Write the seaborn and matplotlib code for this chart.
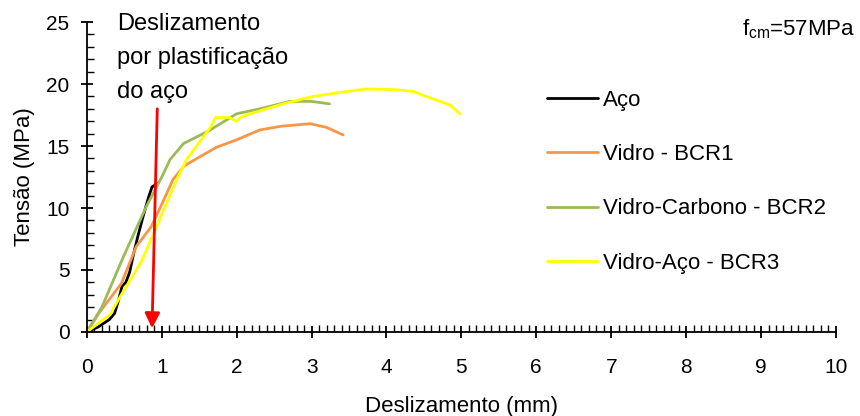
import matplotlib

matplotlib.use("Agg")
import matplotlib.pyplot as plt
import pandas as pd
import seaborn as sns
from matplotlib.ticker import MultipleLocator

# slip (mm) / bond stress (MPa)
aco_x = [0, 0.15, 0.3, 0.37, 0.42, 0.47, 0.52, 0.57, 0.62, 0.68, 0.75, 0.82, 0.87, 0.92, 0.95]
aco_y = [0, 0.4, 1.0, 1.5, 2.5, 3.7, 4.0, 4.8, 6.2, 7.7, 9.3, 10.8, 11.7, 11.9, 12.0]

bcr1_x = [0, 0.17, 0.46, 0.66, 0.86, 1.0, 1.15, 1.3, 1.5, 1.73, 2.0, 2.31, 2.6, 2.98, 3.2, 3.42]
bcr1_y = [0, 1.6, 3.9, 6.9, 8.5, 10.3, 12.3, 13.4, 14.1, 14.9, 15.5, 16.3, 16.6, 16.8, 16.5, 15.9]

bcr2_x = [0, 0.2, 0.49, 0.8, 1.0, 1.11, 1.29, 1.62, 2.0, 2.31, 2.71, 3.0, 3.24]
bcr2_y = [0, 2.0, 6.1, 10.2, 12.5, 13.9, 15.2, 16.2, 17.6, 18.0, 18.6, 18.6, 18.4]

bcr3_x = [0, 0.31, 0.44, 0.73, 0.93, 1.2, 1.33, 1.5, 1.66, 1.72, 1.9, 2.0, 2.05, 2.18,
          2.62, 3.02, 3.47, 3.73, 4.1, 4.36, 4.53, 4.85, 4.98]
bcr3_y = [0, 1.4, 2.8, 5.7, 8.5, 12.3, 13.9, 15.3, 16.6, 17.3, 17.3, 17.0, 17.3, 17.6,
          18.4, 19.0, 19.4, 19.6, 19.55, 19.4, 19.0, 18.3, 17.6]

series_names = ["Aço", "Vidro - BCR1", "Vidro-Carbono - BCR2", "Vidro-Aço - BCR3"]
series_colors = ["#000000", "#F79646", "#9BBB59", "#FFFF00"]

arrow_top = (0.94, 18.0)
arrow_tip = (0.87, 0.3)

frames = []
for name, xs, ys in zip(series_names, [aco_x, bcr1_x, bcr2_x, bcr3_x],
                        [aco_y, bcr1_y, bcr2_y, bcr3_y]):
    frames.append(pd.DataFrame({"x": xs, "y": ys, "serie": name}))
df = pd.concat(frames, ignore_index=True)

sns.set_style("white")
plt.rcParams["font.family"] = ["Liberation Sans", "DejaVu Sans"]
plt.rcParams["text.color"] = "black"
plt.rcParams["axes.labelcolor"] = "black"
plt.rcParams["xtick.color"] = "black"
plt.rcParams["ytick.color"] = "black"

fig = plt.figure(figsize=(8.6, 4.16), dpi=100)
ax = fig.add_axes([0.101, 0.202, 0.871, 0.745])

sns.lineplot(data=df, x="x", y="y", hue="serie", hue_order=series_names,
             palette=series_colors, sort=False, estimator=None, linewidth=2, ax=ax)

ax.set_xlim(0, 10)
ax.set_ylim(0, 25)
ax.xaxis.set_major_locator(MultipleLocator(1))
ax.xaxis.set_minor_locator(MultipleLocator(0.1))
ax.yaxis.set_major_locator(MultipleLocator(5))
ax.yaxis.set_minor_locator(MultipleLocator(1))
ax.tick_params(which="major", direction="inout", length=9, width=1.3, labelsize=15)
ax.tick_params(axis="x", which="major", pad=14)
ax.tick_params(axis="y", which="major", pad=8)
ax.tick_params(which="minor", direction="in", length=5, width=1.0)
ax.tick_params(axis="x", which="both", bottom=True)
ax.tick_params(axis="y", which="both", left=True)

for side in ["top", "right"]:
    ax.spines[side].set_visible(False)
for side in ["left", "bottom"]:
    ax.spines[side].set_color("black")
    ax.spines[side].set_linewidth(1.3)

ax.set_xlabel("Deslizamento (mm)", fontsize=16, labelpad=14)
ax.set_ylabel("Tensão (MPa)", fontsize=16, labelpad=8)

ax.annotate("", xy=arrow_tip, xytext=arrow_top,
            arrowprops=dict(arrowstyle="-|>,head_length=0.9,head_width=0.45",
                            color="red", lw=2, shrinkA=0, shrinkB=0))

ax.text(0.4, 25.7, "Deslizamento\npor plastificação\ndo aço", fontsize=17,
        va="top", ha="left", linespacing=1.7, clip_on=False)
fig.text(0.994, 0.93, r"f$_{\mathregular{cm}}$=57MPa", fontsize=16, ha="right", va="center")

handles, labels = ax.get_legend_handles_labels()
ax.legend(handles, labels, loc="upper left", bbox_to_anchor=(0.602, 0.81), frameon=False,
          fontsize=16, handlelength=2.3, handletextpad=0.25, labelspacing=1.5,
          borderaxespad=0)

fig.savefig("out.png", dpi=100)
